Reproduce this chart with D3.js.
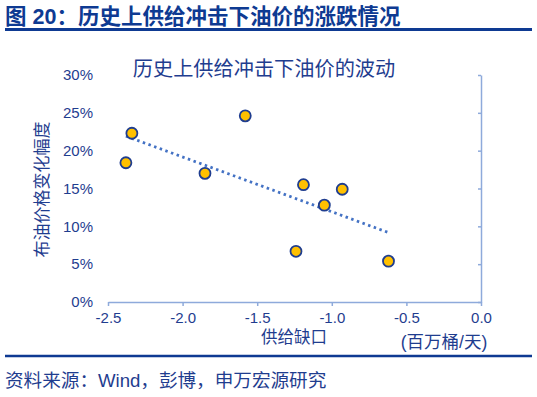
<!DOCTYPE html>
<html>
<head>
<meta charset="utf-8">
<script src="https://cdn.jsdelivr.net/npm/d3@7"></script>
<style>
  body { margin: 0; background: #fff; }
  text { font-family: "Liberation Sans", "Noto Sans CJK SC", sans-serif; }
</style>
</head>
<body>
<div id="chart"></div>
<script>
// supply gap (mb/d) vs brent price change (%)
let supplyGap = [-2.38, -2.34, -1.58, -1.85, -1.19, -0.93, -1.05, -1.24, -0.62];
let priceChange = [18.4, 22.3, 24.6, 17.0, 15.5, 14.9, 12.8, 6.7, 5.4];
let xTicks = [-2.5, -2.0, -1.5, -1.0, -0.5, 0.0];
let yTicks = [0, 5, 10, 15, 20, 25, 30];

let width = 537;
let height = 397;
let textColor = '#1f3d8f';
let axisColor = '#8eaadb';

let svg = d3.select('#chart')
  .append('svg')
  .attr('width', width)
  .attr('height', height);

// header
svg.append('text')
  .attr('x', 5)
  .attr('y', 24)
  .attr('font-size', 21.5)
  .attr('font-weight', 'bold')
  .attr('fill', '#0e3a92')
  .text('图 20：历史上供给冲击下油价的涨跌情况');

svg.append('line')
  .attr('x1', 5).attr('x2', 532)
  .attr('y1', 29.5).attr('y2', 29.5)
  .attr('stroke', '#0e3a92')
  .attr('stroke-width', 3);

let x = d3.scaleLinear().domain([-2.5, 0]).range([108, 481]);
let y = d3.scaleLinear().domain([0, 30]).range([302, 75]);

// chart title
svg.append('text')
  .attr('x', 264)
  .attr('y', 76)
  .attr('text-anchor', 'middle')
  .attr('font-size', 20.2)
  .attr('fill', textColor)
  .text('历史上供给冲击下油价的波动');

// x axis
let xAxis = svg.append('g')
  .attr('transform', `translate(0,${y(0)})`)
  .call(d3.axisBottom(x).tickValues(xTicks).tickFormat(d => d.toFixed(1)).tickSizeInner(4).tickSizeOuter(0));
xAxis.select('.domain').attr('stroke', axisColor).attr('stroke-width', 1.5);
xAxis.selectAll('.tick line').attr('stroke', axisColor).attr('stroke-width', 1.5);
xAxis.selectAll('.tick text')
  .attr('fill', textColor)
  .attr('font-size', 15)
  .attr('dy', '0.95em');

// right axis line (no labels)
let rAxis = svg.append('g')
  .attr('transform', `translate(${x(0)},0)`)
  .call(d3.axisLeft(y).tickValues(yTicks).tickFormat('').tickSizeInner(3).tickSizeOuter(0));
rAxis.select('.domain').attr('stroke', axisColor).attr('stroke-width', 1.5);
rAxis.selectAll('.tick line').attr('stroke', axisColor).attr('stroke-width', 1.5);

// left tick labels only
let lAxis = svg.append('g')
  .attr('transform', `translate(${x(-2.5)},0)`)
  .call(d3.axisLeft(y).tickValues(yTicks).tickFormat(d => d + '%').tickSize(0).tickPadding(15));
lAxis.select('.domain').remove();
lAxis.selectAll('.tick text')
  .attr('fill', textColor)
  .attr('font-size', 15);

// axis titles
svg.append('text')
  .attr('x', 294)
  .attr('y', 343)
  .attr('text-anchor', 'middle')
  .attr('font-size', 16.5)
  .attr('fill', textColor)
  .text('供给缺口');

svg.append('text')
  .attr('x', 444)
  .attr('y', 348)
  .attr('text-anchor', 'middle')
  .attr('font-size', 17.5)
  .attr('fill', textColor)
  .text('(百万桶/天)');

svg.append('text')
  .attr('transform', `translate(48,${y(15) + 1}) rotate(-90)`)
  .attr('text-anchor', 'middle')
  .attr('font-size', 17)
  .attr('fill', textColor)
  .text('布油价格变化幅度');

// linear trend from least squares
let pts = supplyGap.map((g, i) => ({ gap: g, chg: priceChange[i] }));
let mx = d3.mean(pts, d => d.gap);
let my = d3.mean(pts, d => d.chg);
let slope = d3.sum(pts, d => (d.gap - mx) * (d.chg - my)) / d3.sum(pts, d => (d.gap - mx) ** 2);
let [x0, x1] = d3.extent(supplyGap);
let trend = [x0, x1].map(g => ({ gap: g, chg: my + slope * (g - mx) }));

svg.append('path')
  .datum(trend)
  .attr('d', d3.line().x(d => x(d.gap)).y(d => y(d.chg)))
  .attr('fill', 'none')
  .attr('stroke', '#4472c4')
  .attr('stroke-width', 2.8)
  .attr('stroke-dasharray', '2.5 3.5');

// points
svg.selectAll('circle.pt')
  .data(pts)
  .enter()
  .append('circle')
  .attr('class', 'pt')
  .attr('cx', d => x(d.gap))
  .attr('cy', d => y(d.chg))
  .attr('r', 5.5)
  .attr('fill', '#ffc000')
  .attr('stroke', '#1f3d8f')
  .attr('stroke-width', 1.8);

// footer
svg.append('line')
  .attr('x1', 5).attr('x2', 532)
  .attr('y1', 356).attr('y2', 356)
  .attr('stroke', '#0e3a92')
  .attr('stroke-width', 2.5);

svg.append('text')
  .attr('x', 5)
  .attr('y', 387)
  .attr('font-size', 18.6)
  .attr('fill', textColor)
  .text('资料来源：Wind，彭博，申万宏源研究');
</script>
</body>
</html>
